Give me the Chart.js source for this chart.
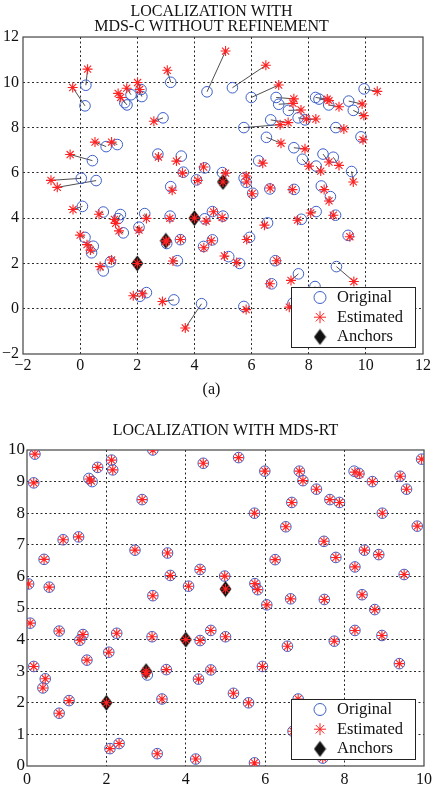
<!DOCTYPE html>
<html>
<head>
<meta charset="utf-8">
<script src="https://cdn.jsdelivr.net/npm/chart.js@4.4.1/dist/chart.umd.min.js"></script>
<style>
  body { margin: 0; background: #fff; }
  canvas { position: absolute; left: 0; }
  #chartA { top: 0; }
  #chartB { top: 405px; }
</style>
</head>
<body>
<canvas id="chartA" width="436" height="405"></canvas>
<canvas id="chartB" width="436" height="391"></canvas>
<script>
// original node positions (same network in both panels)
const origX = [0.20,0.17,0.43,0.91,1.30,0.56,0.04,1.56,1.64,1.78, 2.13,2.16,2.90,3.17,2.72,3.54,3.61,3.17,4.07,4.36,
  4.44,4.98,5.33,5.73,5.74,5.81,5.99,6.04,6.25,6.52, 6.67,6.86,6.95,7.29,7.48,7.63,7.87,7.78,6.64,7.49,
  8.24,8.36,8.26,8.50,8.44,8.70,8.95,8.86,9.40,9.56, 9.50,9.83,9.94,8.76,0.08,0.17,0.46,0.40,0.81,1.33,
  1.41,1.51,1.06,0.81,2.06,2.26,2.09,2.32,3.03,3.15, 3.51,3.40,3.28,4.36,4.63,4.63,4.32,4.25,5.00,5.20,
  5.58,5.73,5.93,6.56,6.83,6.70,7.74,8.26,8.94,9.38, 7.64,8.97,8.22,7.45];
const origY = [9.87,8.96,6.54,7.16,7.25,5.66,5.76,9.10,9.00,9.45, 9.68,9.37,8.43,10.00,6.83,6.74,6.03,5.39,5.69,6.22,
  9.58,6.01,9.76,8.00,5.77,5.58,9.33,5.10,6.53,7.57, 8.34,9.33,9.03,8.76,7.11,8.43,8.34,6.60,5.29,5.27,
  9.33,9.26,6.30,6.83,5.42,9.00,8.00,6.69,9.17,8.76, 6.06,7.59,9.71,4.95,4.52,3.15,2.76,2.47,4.27,3.98,
  4.16,3.35,2.07,1.67,3.60,4.20,0.55,0.71,2.88,4.09, 3.05,2.12,0.39,3.97,4.29,3.04,2.75,0.22,4.09,2.30,
  2.00,0.10,3.15,3.79,2.12,1.10,3.95,4.29,4.13,3.24, 1.54,1.86,0.98,0.25];

// estimates, MDS-C without refinement
const mdscX = [0.26,-0.26,-0.35,0.52,1.10,-0.80,-1.02,1.33,1.42,1.63, 2.01,2.08,2.58,3.05,2.74,3.37,3.58,3.22,4.12,4.32,
  5.09,5.09,6.50,7.00,5.81,5.83,6.95,6.02,6.39,7.03, 7.28,7.48,7.45,7.73,7.87,7.92,8.25,8.01,6.65,7.43,
  8.65,8.71,8.42,8.71,8.54,9.06,9.23,9.06,9.87,9.93, 9.56,9.90,10.40,8.71,-0.25,0.00,0.24,0.36,0.66,1.20,
  1.24,1.36,1.10,0.70,2.06,2.32,1.86,2.18,3.02,3.14, 3.51,3.25,2.88,4.41,4.67,4.59,4.33,3.68,4.97,5.05,
  5.48,5.81,5.83,6.45,6.88,6.64,7.61,8.07,8.86,9.44, 7.38,9.58,8.35,7.32];
const mdscY = [10.58,9.77,6.81,7.36,7.36,5.36,5.67,9.51,9.33,9.74, 9.99,9.68,8.28,10.53,6.70,6.52,5.99,5.23,5.67,6.26,
  11.38,5.99,10.75,8.13,5.86,5.60,9.88,5.08,6.43,7.31, 8.22,9.27,9.07,8.78,7.06,8.38,8.38,6.30,5.33,5.26,
  9.26,9.19,6.08,6.48,5.26,8.92,7.94,6.33,9.04,8.53, 5.60,7.46,9.60,4.76,4.38,3.25,2.83,2.59,4.17,3.94,
  3.77,3.44,2.15,1.86,3.47,3.99,0.57,0.66,2.96,3.99, 3.06,2.11,0.32,3.87,4.28,3.00,2.69,-0.85,4.03,2.33,
  2.04,-0.04,3.06,3.69,2.12,1.10,3.91,4.23,4.13,3.18, 1.25,1.20,0.75,0.07];

// estimates, MDS-RT (sit on the originals)
const rtX = [0.20,0.17,0.43,0.91,1.30,0.56,0.04,1.57,1.62,1.78, 2.13,2.16,2.90,3.17,2.72,3.54,3.61,3.17,4.07,4.36,
  4.44,4.98,5.33,5.73,5.74,5.81,5.99,6.04,6.25,6.52, 6.67,6.86,6.95,7.29,7.48,7.63,7.87,7.78,6.64,7.49,
  8.26,8.38,8.26,8.50,8.44,8.70,8.95,8.86,9.40,9.56, 9.50,9.83,9.94,8.76,0.08,0.17,0.46,0.40,0.81,1.33,
  1.41,1.51,1.06,0.81,2.06,2.26,2.09,2.32,3.00,3.15, 3.51,3.40,3.28,4.36,4.63,4.63,4.32,4.25,5.00,5.20,
  5.58,5.73,5.93,6.56,6.83,6.70,7.74,8.26,8.94,9.38, 7.64,8.97,8.22,7.45];
const rtY = [9.87,8.96,6.54,7.16,7.25,5.66,5.76,9.08,9.02,9.45, 9.68,9.37,8.43,10.00,6.83,6.74,6.03,5.39,5.69,6.22,
  9.58,6.01,9.76,8.00,5.77,5.58,9.33,5.10,6.53,7.57, 8.34,9.33,9.03,8.76,7.11,8.43,8.34,6.60,5.29,5.27,
  9.30,9.24,6.30,6.83,5.42,9.00,8.00,6.69,9.17,8.76, 6.06,7.59,9.71,4.95,4.52,3.15,2.76,2.47,4.27,3.98,
  4.16,3.35,2.07,1.67,3.60,4.20,0.55,0.71,2.93,4.09, 3.05,2.12,0.39,3.97,4.29,3.04,2.75,0.22,4.09,2.30,
  2.00,0.10,3.15,3.79,2.12,1.10,3.95,4.29,4.13,3.24, 1.54,1.86,0.98,0.25];

const anchorX = [2, 3, 4, 5];
const anchorY = [2, 3, 4, 5.6];

const ticksA = [-2, 0, 2, 4, 6, 8, 10, 12];
const ticksBx = [0, 2, 4, 6, 8, 10];
const ticksBy = [0, 1, 2, 3, 4, 5, 6, 7, 8, 9, 10];
const legendLabels = ["Original", "Estimated", "Anchors"];

Chart.defaults.font.family = "'Liberation Serif', 'DejaVu Serif', serif";
Chart.defaults.color = "#111";

const BLUE = "#3d5fc8";
const RED = "#ff2222";

// filled diamond used for anchors
const diamond = document.createElement("canvas");
diamond.width = 13;
diamond.height = 17;
const dctx = diamond.getContext("2d");
dctx.beginPath();
dctx.moveTo(6.5, 0.5);
dctx.lineTo(12.5, 8.5);
dctx.lineTo(6.5, 16.5);
dctx.lineTo(0.5, 8.5);
dctx.closePath();
dctx.fillStyle = "#111";
dctx.fill();

function pts(xs, ys) {
  return xs.map((x, i) => ({ x: x, y: ys[i] }));
}

function links(ex, ey) {
  const out = [];
  origX.forEach((x, i) => {
    out.push({ x: x, y: origY[i] }, { x: ex[i], y: ey[i] }, { x: NaN, y: NaN });
  });
  return out;
}

function datasets(ex, ey) {
  return [
    { label: legendLabels[0], data: pts(origX, origY), pointStyle: "circle", pointRadius: 5.3,
      borderColor: BLUE, backgroundColor: "transparent", borderWidth: 1, order: 2, legendRow: 0, legendRadius: 6 },
    { label: legendLabels[1], data: pts(ex, ey).concat(pts(anchorX, anchorY)), pointStyle: "star", pointRadius: 5,
      borderColor: RED, backgroundColor: RED, borderWidth: 1.1, order: 0, legendRow: 1, legendRadius: 6 },
    { label: legendLabels[2], data: pts(anchorX, anchorY), pointStyle: diamond, pointRadius: 7,
      borderColor: "#111", backgroundColor: "#111", borderWidth: 0, order: 1, legendRow: 2, legendRadius: 7 },
    { label: "links", data: links(ex, ey), showLine: true, spanGaps: false, pointRadius: 0,
      borderColor: "#222", borderWidth: 0.8, order: 3 }
  ];
}

// solid box round the plot
const frame = {
  id: "frame",
  beforeDatasetsDraw(chart) {
    const { ctx, chartArea: a } = chart;
    ctx.save();
    ctx.strokeStyle = "#444";
    ctx.lineWidth = 1.2;
    ctx.strokeRect(a.left, a.top, a.width, a.height);
    ctx.restore();
  }
};

// boxed legend in the lower right corner of the plot
const boxLegend = {
  id: "boxLegend",
  afterDatasetsDraw(chart, args, opts) {
    const { ctx, chartArea: a } = chart;
    const w = 125, h = 61;
    const left = a.right - opts.right - w;
    const top = a.bottom - opts.bottom - h;
    ctx.save();
    ctx.fillStyle = "#fff";
    ctx.fillRect(left, top, w, h);
    ctx.strokeStyle = "#222";
    ctx.lineWidth = 1;
    ctx.strokeRect(left + 0.5, top + 0.5, w - 1, h - 1);
    chart.data.datasets.forEach(d => {
      if (d.legendRow === undefined) return;
      const y = top + 10.5 + d.legendRow * 19.7;
      ctx.strokeStyle = d.borderColor;
      ctx.fillStyle = d.backgroundColor;
      Chart.helpers.drawPoint(ctx, { pointStyle: d.pointStyle, radius: d.legendRadius, rotation: 0,
        borderWidth: d.borderWidth }, left + 29, y);
      ctx.fillStyle = "#111";
      ctx.font = "16.5px 'Liberation Serif'";
      ctx.textBaseline = "middle";
      ctx.textAlign = "left";
      ctx.fillText(d.label, left + 46, y);
    });
    ctx.restore();
  }
};

function axis(ticks, min, max, fontSize, pad, fit) {
  return {
    type: "linear", min: min, max: max,
    afterBuildTicks: s => { s.ticks = ticks.map(v => ({ value: v })); },
    afterFit: fit,
    border: { display: false, dash: [2, 2.5] },
    grid: {
      drawTicks: false, lineWidth: 1,
      color: c => (c.tick && (c.tick.value === min || c.tick.value === max)) ? "transparent" : "#2a2a2a"
    },
    ticks: {
      autoSkip: false, maxRotation: 0, padding: pad,
      font: { size: fontSize },
      callback: v => String(v).replace("-", "\u2212")
    }
  };
}

new Chart(document.getElementById("chartA"), {
  type: "scatter",
  data: { datasets: datasets(mdscX, mdscY) },
  options: {
    responsive: false, animation: false, devicePixelRatio: 1,
    layout: { padding: { left: 0, right: 13, top: 0, bottom: 0 } },
    plugins: {
      legend: { display: false },
      tooltip: { enabled: false },
      title: {
        display: true, text: ["LOCALIZATION WITH", "MDS-C WITHOUT REFINEMENT"], color: "#111",
        font: { size: 16, weight: "normal", lineHeight: 0.96 }, padding: { top: 4, bottom: 2.3 }
      },
      subtitle: {
        display: true, position: "bottom", text: "(a)", color: "#111",
        font: { size: 16, weight: "normal" }, padding: { top: 2.4, bottom: 5.4 }
      },
      boxLegend: { right: 7, bottom: 6 }
    },
    scales: {
      x: axis(ticksA, -2, 12, 16, 2, s => { s.height = 24; }),
      y: axis(ticksA, -2, 12, 16, 4, s => { s.width = 23; })
    }
  },
  plugins: [frame, boxLegend]
});

new Chart(document.getElementById("chartB"), {
  type: "scatter",
  data: { datasets: datasets(rtX, rtY).slice(0, 3) },
  options: {
    responsive: false, animation: false, devicePixelRatio: 1,
    layout: { padding: { left: 0, right: 7, top: 0, bottom: 0 } },
    plugins: {
      legend: { display: false },
      tooltip: { enabled: false },
      title: {
        display: true, fullSize: false, text: "LOCALIZATION WITH MDS-RT", color: "#111",
        font: { size: 16, weight: "normal" }, padding: { top: 16, bottom: 9.8 }
      },
      boxLegend: { right: 8, bottom: 6 }
    },
    scales: {
      x: axis(ticksBx, 0, 10, 16, 4, s => { s.height = 30; }),
      y: axis(ticksBy, 0, 10, 17, 2, s => { s.width = 27; })
    }
  },
  plugins: [frame, boxLegend]
});
</script>
</body>
</html>
